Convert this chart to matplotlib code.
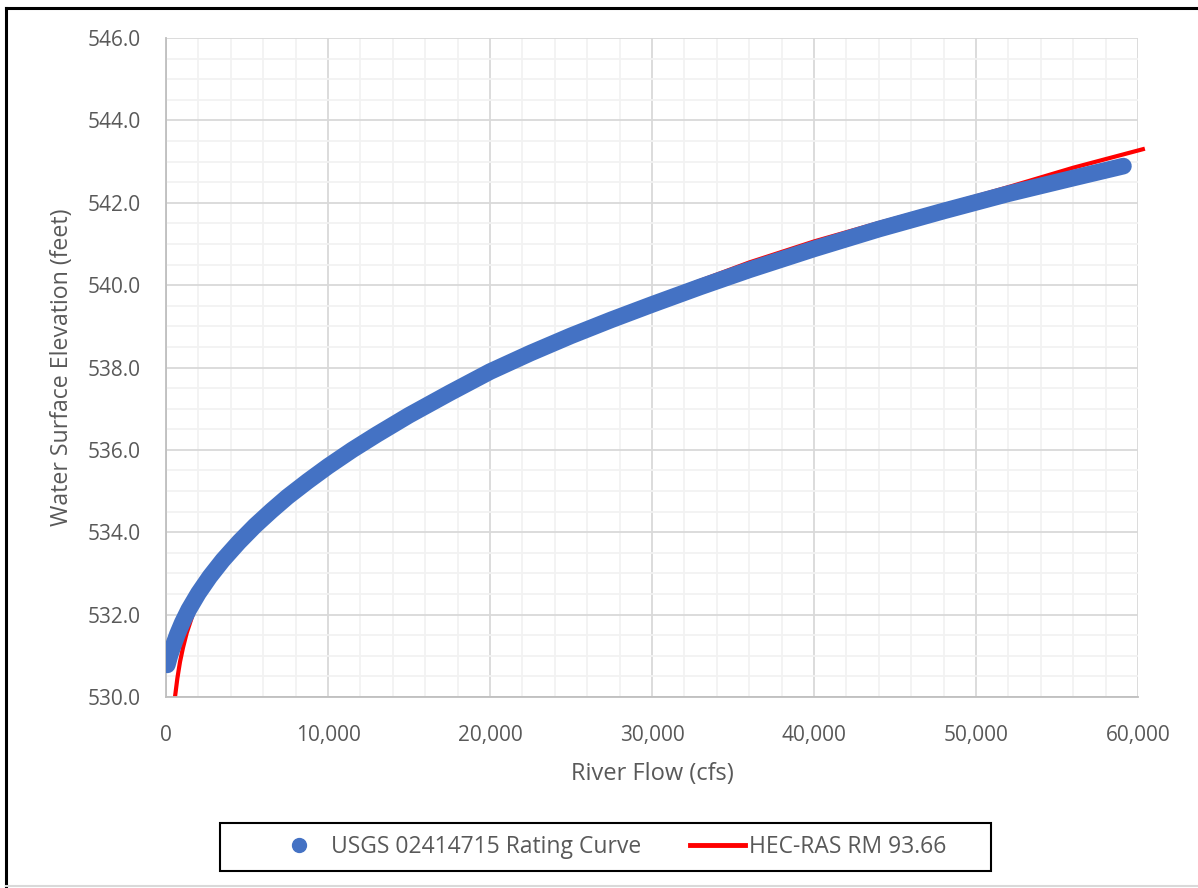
import matplotlib
matplotlib.use("Agg")
import matplotlib.pyplot as plt
from matplotlib.lines import Line2D
from matplotlib.patches import Rectangle
from matplotlib.ticker import MultipleLocator, FuncFormatter
from matplotlib.transforms import Bbox, TransformedBbox

# USGS 02414715 rating curve
usgs_flow = [80, 250, 450, 700, 1000, 1400, 2000, 2700, 3500, 4500, 5500, 6500,
             7500, 8750, 10000, 11500, 13000, 15000, 17500, 20000, 22500, 25000,
             27500, 30000, 33000, 36000, 40000, 44000, 48000, 52000, 56000, 59100]
usgs_wse = [530.78, 531.02, 531.25, 531.52, 531.8, 532.12, 532.52, 532.92, 533.32,
            533.76, 534.16, 534.52, 534.86, 535.24, 535.6, 536.0, 536.37, 536.84,
            537.38, 537.9, 538.35, 538.77, 539.16, 539.53, 539.96, 540.37, 540.88,
            541.36, 541.8, 542.22, 542.6, 542.89]

# HEC-RAS RM 93.66
ras_flow = [480, 555, 700, 863, 1050, 1274, 1684, 2500, 3500, 4500, 5500, 6500,
            7500, 8750, 10000, 11500, 13000, 15000, 17500, 20000, 22500, 25000,
            27500, 30000, 33000, 36000, 40000, 44000, 48000, 52000, 56000, 60300]
ras_wse = [529.7, 530.0, 530.45, 530.85, 531.2, 531.55, 532.04, 532.7, 533.3,
           533.76, 534.16, 534.52, 534.86, 535.24, 535.6, 536.0, 536.37, 536.84,
           537.38, 537.92, 538.4, 538.85, 539.26, 539.65, 540.11, 540.55, 541.06,
           541.51, 541.93, 542.38, 542.85, 543.3]

BLUE = "#4472c4"
RED = "#ff0000"
TXT = "#595959"
plt.rcParams["font.family"] = ["Open Sans", "DejaVu Sans"]

fig = plt.figure(figsize=(11.98, 8.88), dpi=100)
ax = fig.add_axes([166/1198, 1-697/888, 972/1198, 659/888])

ax.plot(usgs_flow, usgs_wse, color=BLUE, lw=12, solid_capstyle="round",
        solid_joinstyle="round", zorder=3)
red, = ax.plot(ras_flow, ras_wse, color=RED, lw=3.0, zorder=2)
# red line runs a touch past the right edge, but is cut at the bottom
red.set_clip_box(TransformedBbox(Bbox([[0, 0], [1.01, 1]]), ax.transAxes))

ax.set_xlim(0, 60000)
ax.set_ylim(530, 546)
ax.xaxis.set_major_locator(MultipleLocator(10000))
ax.xaxis.set_minor_locator(MultipleLocator(2000))
ax.yaxis.set_major_locator(MultipleLocator(2))
ax.yaxis.set_minor_locator(MultipleLocator(0.5))
ax.xaxis.set_major_formatter(FuncFormatter(lambda v, p: f"{v:,.0f}"))
ax.yaxis.set_major_formatter(FuncFormatter(lambda v, p: f"{v:.1f}"))
ax.grid(which="major", color="#d9d9d9", lw=1.3, zorder=0)
ax.grid(which="minor", color="#f2f2f2", lw=1.3, zorder=0)
ax.set_axisbelow(True)
for s in ["top", "right"]:
    ax.spines[s].set_visible(False)
for s in ["left", "bottom"]:
    ax.spines[s].set_color("#bfbfbf")
    ax.spines[s].set_linewidth(1.3)
ax.tick_params(which="both", length=0, labelsize=15, labelcolor=TXT)
ax.tick_params(axis="y", pad=18)
ax.tick_params(axis="x", pad=20)

ax.set_xlabel("River Flow (cfs)", fontsize=17, color=TXT, labelpad=12)
ax.set_ylabel("Water Surface Elevation (feet)", fontsize=16.7, color=TXT, labelpad=10)

handles = [Line2D([], [], ls="none", marker="o", ms=10, color=BLUE),
           Line2D([], [], color=RED, lw=3.5)]
fig.legend(handles, ["USGS 02414715 Rating Curve", "HEC-RAS RM 93.66"],
           loc="center", bbox_to_anchor=(609/1198, 1-847/888), ncol=2,
           frameon=False, fontsize=16.5, labelcolor=TXT, handlelength=2.4,
           handletextpad=0.17, columnspacing=2.14)
fig.patches.append(Rectangle((220/1198, 1-871/888), 771/1198, 48/888,
                             transform=fig.transFigure, fill=False,
                             ec="black", lw=1.5))

# outer chart border (left/top black, bottom grey)
fig.add_artist(Line2D([6/1198, 6/1198], [0, 1-8/888], color="black", lw=2.2,
                      transform=fig.transFigure))
fig.add_artist(Line2D([6/1198, 1], [1-8/888, 1-8/888], color="black", lw=2.2,
                      transform=fig.transFigure))
fig.add_artist(Line2D([6/1198, 1], [1-886/888, 1-886/888], color="#d9d9d9", lw=1.5,
                      transform=fig.transFigure))

fig.savefig("out.png", dpi=100)
